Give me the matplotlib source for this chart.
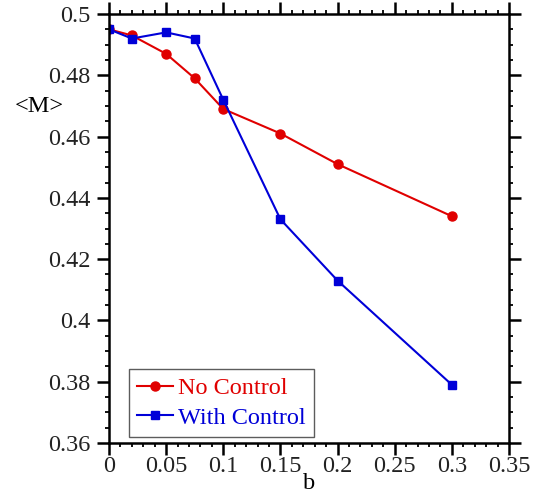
import matplotlib
matplotlib.use("Agg")
import matplotlib.pyplot as plt
from matplotlib.ticker import MultipleLocator

plt.rcParams['font.family'] = ['Liberation Serif', 'DejaVu Serif']

# data
b_vals = [0.0, 0.02, 0.05, 0.075, 0.1, 0.15, 0.2, 0.3]
m_no_control = [0.495, 0.493, 0.487, 0.479, 0.469, 0.461, 0.451, 0.434]
m_with_control = [0.495, 0.492, 0.494, 0.492, 0.472, 0.433, 0.413, 0.379]

x_ticks = [0, 0.05, 0.1, 0.15, 0.2, 0.25, 0.3, 0.35]
x_labels = ['0', '0.05', '0.1', '0.15', '0.2', '0.25', '0.3', '0.35']
y_ticks = [0.36, 0.38, 0.4, 0.42, 0.44, 0.46, 0.48, 0.5]
y_labels = ['0.36', '0.38', '0.4', '0.42', '0.44', '0.46', '0.48', '0.5']

red = '#e00000'
blue = '#0000d8'

fig = plt.figure(figsize=(5.41, 5.0), dpi=100)
ax = fig.add_axes([109 / 541, 1 - 443 / 500, 400 / 541, 429 / 500])

ax.plot(b_vals, m_no_control, color=red, lw=1.5, marker='o', ms=6.5, label='No Control')
ax.plot(b_vals, m_with_control, color=blue, lw=1.5, marker='s', ms=6.2, label='With Control')

ax.set_xlim(0, 0.35)
ax.set_ylim(0.36, 0.5)
ax.set_xticks(x_ticks)
ax.set_xticklabels(x_labels)
ax.set_yticks(y_ticks)
ax.set_yticklabels(y_labels)
ax.xaxis.set_minor_locator(MultipleLocator(0.01))
ax.yaxis.set_minor_locator(MultipleLocator(0.005))

for s in ax.spines.values():
    s.set_linewidth(1.8)
ax.tick_params(which='both', direction='out', top=True, right=True,
               labelsize=17.5, colors='black', labelcolor='#222222')
ax.tick_params(which='major', length=8.5, width=1.8)
ax.tick_params(axis='x', which='major', pad=1)
ax.tick_params(axis='y', which='major', pad=5)
ax.tick_params(which='minor', length=3.2, width=1.3)

ax.set_xlabel('b', fontsize=17.5, labelpad=-3)
ax.set_ylabel('<M>', fontsize=17.5, rotation=0, ha='center', va='center')
ax.yaxis.set_label_coords(-0.175, 0.785)

leg = ax.legend(loc='lower left', bbox_to_anchor=(0.05, 0.014), fontsize=17.5,
                frameon=True, fancybox=False, edgecolor='#333333',
                handlelength=1.5, handletextpad=0.2, borderpad=0.33,
                labelspacing=0.32, borderaxespad=0)
leg.get_frame().set_linewidth(1.0)
for txt, c in zip(leg.get_texts(), [red, blue]):
    txt.set_color(c)

fig.savefig('out.png', dpi=100)
